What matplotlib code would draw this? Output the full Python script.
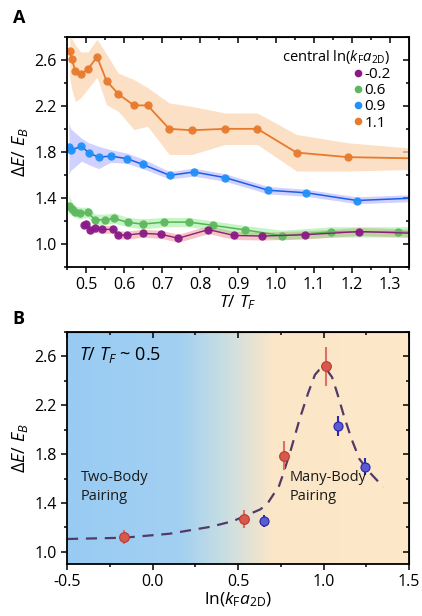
import numpy as np
import matplotlib
matplotlib.use("Agg")
import matplotlib.pyplot as plt
from matplotlib.colors import LinearSegmentedColormap
from matplotlib.ticker import MultipleLocator

plt.rcParams['font.family'] = ['Open Sans', 'DejaVu Sans']
plt.rcParams['mathtext.fontset'] = 'custom'
plt.rcParams['mathtext.rm'] = 'Open Sans'
plt.rcParams['mathtext.it'] = 'Open Sans:italic'
plt.rcParams['mathtext.bf'] = 'Open Sans:bold'

# ---- panel A data: dE/E_B vs T/T_F, bands = uncertainty ----
T_or = [0.457, 0.462, 0.472, 0.486, 0.505, 0.529, 0.554, 0.585, 0.626, 0.662,
        0.719, 0.778, 0.866, 0.951, 1.054, 1.189, 1.37]
E_or = [2.68, 2.607, 2.508, 2.475, 2.518, 2.628, 2.418, 2.304, 2.205, 2.205,
        2.001, 1.989, 2.001, 2.001, 1.795, 1.755, 1.744]
E_or_hi = [2.80, 2.79, 2.73, 2.67, 2.67, 2.78, 2.65, 2.485, 2.43, 2.36,
           2.226, 2.197, 2.139, 2.139, 1.952, 1.88, 1.83]
E_or_lo = [2.45, 2.35, 2.24, 2.27, 2.35, 2.45, 2.21, 2.153, 1.995, 2.023,
           1.778, 1.778, 1.865, 1.865, 1.634, 1.634, 1.649]

T_bl = [0.455, 0.460, 0.488, 0.507, 0.533, 0.565, 0.608, 0.649, 0.720, 0.784,
        0.866, 0.980, 1.080, 1.213, 1.37]
E_bl = [1.84, 1.815, 1.85, 1.793, 1.755, 1.764, 1.742, 1.692, 1.597, 1.626,
        1.577, 1.467, 1.445, 1.378, 1.40]
E_bl_hi = [2.05, 2.00, 1.92, 1.88, 1.85, 1.82, 1.79, 1.74, 1.63, 1.66,
           1.61, 1.50, 1.475, 1.41, 1.43]
E_bl_lo = [1.61, 1.64, 1.72, 1.69, 1.655, 1.71, 1.70, 1.655, 1.565, 1.59,
           1.545, 1.435, 1.415, 1.35, 1.37]

T_gr = [0.455, 0.462, 0.472, 0.483, 0.504, 0.524, 0.550, 0.574, 0.610, 0.649,
        0.706, 0.771, 0.834, 0.919, 1.016, 1.145, 1.320, 1.37]
E_gr = [1.331, 1.303, 1.274, 1.265, 1.274, 1.210, 1.210, 1.222, 1.188, 1.173,
        1.190, 1.190, 1.162, 1.122, 1.072, 1.105, 1.105, 1.10]
E_gr_hi = [1.43, 1.37, 1.33, 1.32, 1.32, 1.26, 1.26, 1.27, 1.23, 1.22,
           1.23, 1.23, 1.20, 1.16, 1.12, 1.15, 1.15, 1.15]
E_gr_lo = [1.26, 1.25, 1.23, 1.22, 1.23, 1.17, 1.17, 1.18, 1.15, 1.13,
           1.15, 1.15, 1.12, 1.08, 1.035, 1.06, 1.06, 1.055]

T_pu = [0.494, 0.500, 0.511, 0.524, 0.541, 0.571, 0.584, 0.609, 0.649, 0.697,
        0.743, 0.822, 0.890, 0.964, 1.076, 1.219, 1.37]
E_pu = [1.165, 1.175, 1.118, 1.135, 1.127, 1.127, 1.078, 1.078, 1.093, 1.084,
        1.050, 1.125, 1.074, 1.069, 1.080, 1.108, 1.092]
E_pu_err = [0.035, 0.035, 0.035, 0.035, 0.035, 0.035, 0.035, 0.035, 0.035, 0.035,
            0.035, 0.035, 0.035, 0.035, 0.035, 0.035, 0.035]

legend_labels = ['-0.2', '0.6', '0.9', '1.1']

# ---- panel B data ----
lnkfa_red = [-0.169, 0.533, 0.771, 1.014]
gap_red = [1.120, 1.268, 1.788, 2.518]
gap_red_err = [0.06, 0.075, 0.12, 0.16]
lnkfa_blue = [0.650, 1.085, 1.243]
gap_blue = [1.254, 2.031, 1.696]
gap_blue_err = [0.05, 0.08, 0.07]

# dashed guide line
guide_x = [-0.50, -0.17, 0.10, 0.34, 0.47, 0.63, 0.67, 0.74, 0.76, 0.81, 0.86,
           0.91, 0.95, 0.975, 0.99, 1.02, 1.05, 1.08, 1.12, 1.165, 1.21, 1.27, 1.35]
guide_y = [1.105, 1.115, 1.148, 1.205, 1.251, 1.347, 1.39, 1.54, 1.62, 1.84, 2.085,
           2.30, 2.45, 2.49, 2.50, 2.49, 2.43, 2.30, 2.11, 1.92, 1.76, 1.65, 1.53]

fig = plt.figure(figsize=(4.22, 6.16), dpi=100)
axA = fig.add_axes([0.1588, 0.5666, 0.8104, 0.3734])
axB = fig.add_axes([0.1588, 0.0844, 0.8104, 0.3766])

# bands
axA.fill_between(T_or, E_or_lo, E_or_hi, color='#fcd6b3', alpha=0.75, lw=0)
axA.fill_between(T_bl, E_bl_lo, E_bl_hi, color='#9b9bff', alpha=0.45, lw=0)
axA.fill_between(T_pu, np.array(E_pu) - np.array(E_pu_err),
                 np.array(E_pu) + np.array(E_pu_err), color='#f08a8a', alpha=0.5, lw=0)
axA.fill_between(T_gr, E_gr_lo, E_gr_hi, color='#6fe46f', alpha=0.4, lw=0)

ms = 6
axA.plot(T_gr, E_gr, '-', color='#55b455', lw=1.1)
axA.plot(T_gr, E_gr, 'o', color='#5fb85f', ms=ms, mec='none', alpha=0.95)
axA.plot(T_pu, E_pu, '-', color='#8a1f7e', lw=1.0)
axA.plot(T_pu, E_pu, 'o', color='#8b1a88', ms=ms, mec='none', alpha=0.95)
axA.plot(T_bl, E_bl, '-', color='#1a5fe8', lw=1.1)
axA.plot(T_bl, E_bl, 'o', color='#2190f8', ms=ms, mec='none', alpha=0.95)
axA.plot(T_or, E_or, '-', color='#e87a2c', lw=1.3)
axA.plot(T_or, E_or, 'o', color='#e77a2e', ms=ms, mec='none', alpha=0.95)

# legend with dots only
handles = []
for c, lab in zip(['#8b1a88', '#5fb85f', '#2190f8', '#e77a2e'], legend_labels):
    h, = axA.plot([], [], 'o', color=c, ms=5.5, mec='none', label=lab)
    handles.append(h)
leg = axA.legend(handles=handles, loc='upper right', frameon=False,
                 title=r'central ln($\mathit{k}_\mathrm{F}\mathit{a}_\mathrm{2D}$)',
                 fontsize=11, title_fontsize=10.5, handlelength=0.6, handletextpad=0.15,
                 labelspacing=0.08, borderaxespad=0.0, alignment='right',
                 bbox_to_anchor=(0.965, 0.98))

axA.set_xlim(0.45, 1.35)
axA.set_ylim(0.8, 2.8)
axA.xaxis.set_major_locator(MultipleLocator(0.1))
axA.xaxis.set_minor_locator(MultipleLocator(0.05))
axA.yaxis.set_major_locator(MultipleLocator(0.4))
axA.yaxis.set_minor_locator(MultipleLocator(0.2))
axA.set_xticks([0.5, 0.6, 0.7, 0.8, 0.9, 1.0, 1.1, 1.2, 1.3])
axA.set_yticks([1.0, 1.4, 1.8, 2.2, 2.6])
axA.set_xlabel(r'$T/\ T_F$', fontsize=12.5, labelpad=0)
axA.set_ylabel(r'$\Delta E/\ E_B$', fontsize=13, labelpad=3)

# panel B background gradient blue -> peach
grad = LinearSegmentedColormap.from_list(
    'bg', [(0.0, '#99cbf3'), (0.33, '#a2d0f2'), (0.45, '#c5dde4'),
           (0.60, '#fbe6c8'), (1.0, '#fde9ca')])
axB.imshow(np.linspace(0, 1, 256)[None, :], cmap=grad, aspect='auto',
           extent=(-0.5, 1.5, 0.9, 2.8), zorder=0)

axB.plot(guide_x, guide_y, '--', color='#523a66', lw=1.6, dashes=(5, 3.5), zorder=2)
axB.errorbar(lnkfa_red, gap_red, yerr=gap_red_err, fmt='o', ms=7,
             mfc='#d45a4f', mec='#c0392b', mew=0.8, ecolor='#e07066', elinewidth=1.5,
             capsize=0, zorder=3)
axB.errorbar(lnkfa_blue, gap_blue, yerr=gap_blue_err, fmt='o', ms=6.5,
             mfc='#5a5ad2', mec='#2424a8', mew=0.8, ecolor='#2a2ab5', elinewidth=1.5,
             capsize=0, zorder=3)

axB.text(-0.42, 1.67, 'Two-Body\nPairing', fontsize=10.5, va='top', ha='left',
         linespacing=1.35, color='#1a1a1a')
axB.text(0.80, 1.67, 'Many-Body\nPairing', fontsize=10.5, va='top', ha='left',
         linespacing=1.35, color='#1a1a1a')
axB.text(-0.43, 2.69, r'$T/\ T_F$ ~ 0.5', fontsize=13, va='top', ha='left')

axB.set_xlim(-0.5, 1.5)
axB.set_ylim(0.9, 2.8)
axB.xaxis.set_major_locator(MultipleLocator(0.5))
axB.xaxis.set_minor_locator(MultipleLocator(0.25))
axB.set_yticks([1.0, 1.4, 1.8, 2.2, 2.6])
axB.yaxis.set_minor_locator(MultipleLocator(0.2))
axB.set_xticks([-0.5, 0.0, 0.5, 1.0, 1.5])
axB.set_xticklabels(['-0.5', '0.0', '0.5', '1.0', '1.5'])
axB.set_xlabel(r'ln($\mathit{k}_\mathrm{F}\mathit{a}_\mathrm{2D}$)', fontsize=12.5, labelpad=0)
axB.set_ylabel(r'$\Delta E/\ E_B$', fontsize=13, labelpad=3)

for ax in (axA, axB):
    for s in ax.spines.values():
        s.set_linewidth(1.3)
    ax.tick_params(which='both', direction='out', top=False, right=False,
                   labelsize=11.5, width=1.1)
    ax.tick_params(which='major', length=4)
    ax.tick_params(which='minor', length=2.5)
    # mirrored inward ticks on top/right
    sec = ax.secondary_xaxis('top')
    sec.set_xticks(ax.get_xticks())
    sec.xaxis.set_minor_locator(ax.xaxis.get_minor_locator())
    sec.tick_params(which='both', direction='in', labeltop=False, width=1.1)
    sec.tick_params(which='major', length=4)
    sec.tick_params(which='minor', length=2.5)
    secy = ax.secondary_yaxis('right')
    secy.set_yticks(ax.get_yticks())
    secy.yaxis.set_minor_locator(ax.yaxis.get_minor_locator())
    secy.tick_params(which='both', direction='in', labelright=False, width=1.1)
    secy.tick_params(which='major', length=4)
    secy.tick_params(which='minor', length=2.5)

fig.text(0.03, 0.985, 'A', fontsize=13, fontweight='bold', va='top', ha='left')
fig.text(0.03, 0.497, 'B', fontsize=13, fontweight='bold', va='top', ha='left')

fig.savefig('out.png', dpi=100)
